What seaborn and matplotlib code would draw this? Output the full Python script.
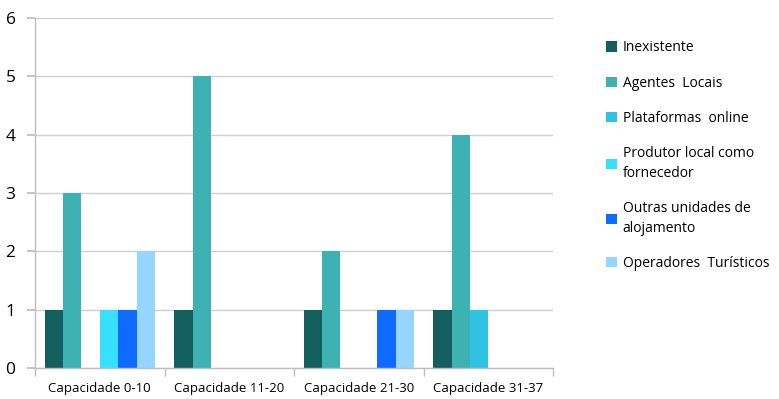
import matplotlib
matplotlib.use("Agg")
import matplotlib.pyplot as plt
from matplotlib.patches import Patch
import seaborn as sns
import pandas as pd

categories = ["Capacidade 0-10", "Capacidade 11-20", "Capacidade 21-30", "Capacidade 31-37"]
series = ["Inexistente", "Agentes  Locais", "Plataformas  online",
          "Produtor local como\nfornecedor", "Outras unidades de\nalojamento",
          "Operadores  Turísticos"]
inexistente = [1, 1, 1, 1]
agentes_locais = [3, 5, 2, 4]
plataformas_online = [0, 0, 0, 1]
produtor_local = [1, 0, 0, 0]
outras_unidades = [1, 0, 1, 0]
operadores_turisticos = [2, 0, 1, 0]
colors = ["#135E5E", "#3EB1B3", "#2EC3E3", "#38E0FF", "#0F6AFF", "#96D5FF"]

values = [inexistente, agentes_locais, plataformas_online,
          produtor_local, outras_unidades, operadores_turisticos]
rows = []
for name, vals in zip(series, values):
    for cat, v in zip(categories, vals):
        rows.append({"cat": cat, "serie": name, "valor": v})
df = pd.DataFrame(rows)

sns.set_theme(style="white")
plt.rcParams["font.family"] = ["Open Sans", "DejaVu Sans"]
plt.rcParams["text.color"] = "black"
plt.rcParams["xtick.color"] = "black"
plt.rcParams["ytick.color"] = "black"

fig = plt.figure(figsize=(7.79, 3.99), dpi=100)
ax = fig.add_axes([0.045, 0.078, 0.665, 0.877])

sns.barplot(data=df, x="cat", y="valor", hue="serie", hue_order=series,
            order=categories, palette=colors, width=0.85, linewidth=0,
            saturation=1, ax=ax, legend=False)

ax.set_ylim(0, 6)
ax.set_xlim(-0.5, len(categories) - 0.5)
ax.set_yticks(range(0, 7))
ax.yaxis.grid(True, color="#CFCFCF", linewidth=1)
ax.set_axisbelow(True)
ax.set_xlabel("")
ax.set_ylabel("")

for s in ["top", "right"]:
    ax.spines[s].set_visible(False)
for s in ["left", "bottom"]:
    ax.spines[s].set_color("#BDBDBD")
    ax.spines[s].set_linewidth(1)

ax.tick_params(axis="y", which="major", length=6, color="#BDBDBD",
               labelcolor="black", labelsize=12.5, pad=8, left=True)
ax.tick_params(axis="x", which="major", length=0, labelcolor="black",
               labelsize=9.5, pad=10)
ax.set_xticks([i - 0.5 for i in range(len(categories) + 1)], minor=True)
ax.tick_params(axis="x", which="minor", length=6, color="#BDBDBD",
               bottom=True, width=1)

handles = [Patch(facecolor=c, edgecolor="none", label=n) for c, n in zip(colors, series)]
leg = fig.legend(handles=handles, loc="upper left", bbox_to_anchor=(0.762, 0.93),
                 frameon=False, fontsize=10, labelspacing=1.45,
                 handlelength=0.75, handleheight=0.75, handletextpad=0.45)
for t in leg.get_texts():
    t.set_linespacing(1.45)
    t.set_color("black")

fig.savefig("out.png", dpi=100)
